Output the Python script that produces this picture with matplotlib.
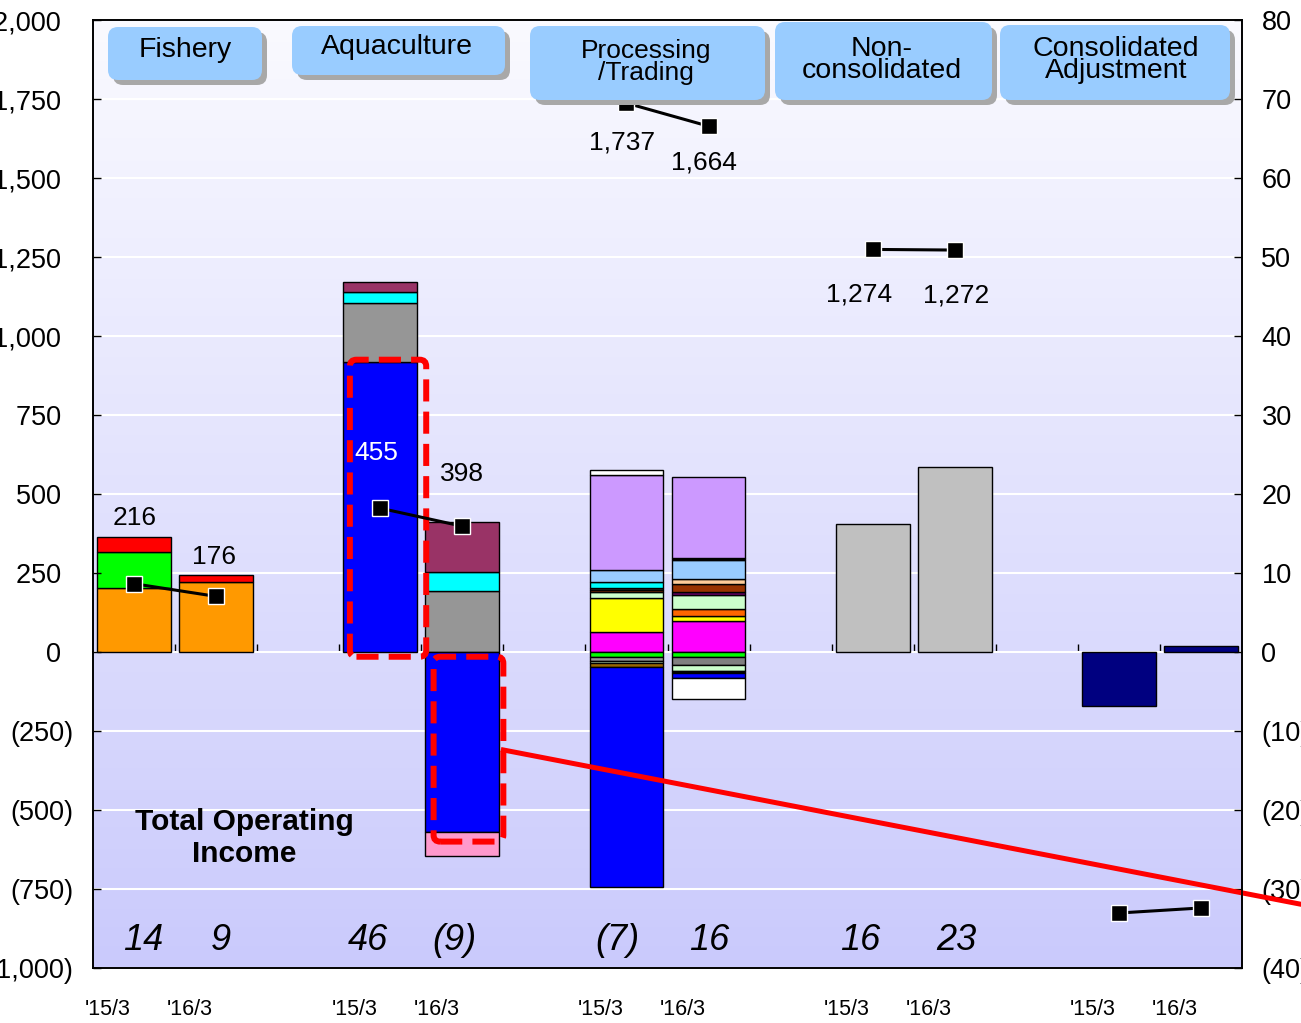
import numpy as np
import matplotlib
matplotlib.use('Agg')
import matplotlib.pyplot as plt
import matplotlib.transforms as mtrans
from matplotlib.patches import FancyBboxPatch
from matplotlib.ticker import MultipleLocator, FuncFormatter

plt.rcParams['font.family'] = ['Liberation Sans', 'DejaVu Sans']

# ---- data ----
segments = ['Fishery', 'Aquaculture', 'Processing\n/Trading', 'Non-\nconsolidated', 'Consolidated\nAdjustment']
years = ["'15/3", "'16/3"]
slots = [0, 1, 3, 4, 6, 7, 9, 10, 12, 13]

# net sales (left axis)
sales = [216, 176, 455, 398, 1737, 1664, 1274, 1272, -826, -810]
sales_text = ['216', '176', '455', '398', '1,737', '1,664', '1,274', '1,272']

# operating income totals (text under bars)
op_income = ['14', '9', '46', '(9)', '(7)', '16', '16', '23']

# operating income breakdown (right axis), stacked from zero outward
fishery_15 = [8.1, 4.5, 1.9]
fishery_16 = [8.9, 0.8]
aqua_15 = [36.7, 7.5, 1.4, 1.2]
aqua_16_pos = [7.7, 2.4, 6.4]
aqua_16_neg = [-22.8, -3.0]
proc_15_pos = [2.5, 4.35, 0.7, 0.3, 0.25, 0.7, 1.6, 12.0, 0.6]
proc_15_neg = [-0.65, -0.5, -0.25, -0.5, -27.9]
proc_16_pos = [3.95, 0.65, 0.9, 1.75, 0.4, 0.95, 0.65, 2.4, 0.3, 10.25]
proc_16_neg = [-0.6, -1.1, -0.7, -0.25, -0.65, -2.6]
noncons = [16.2, 23.4]
adjust = [-6.8, 0.8]

# colours
c_fish_15 = ['#ff9900', '#00ff00', '#ff0000']
c_fish_16 = ['#ff9900', '#ff0000']
c_aqua_15 = ['#0000ff', '#969696', '#00ffff', '#993366']
c_aqua_16_pos = ['#969696', '#00ffff', '#993366']
c_aqua_16_neg = ['#0000ff', '#ff99cc']
c_proc_15_pos = ['#ff00ff', '#ffff00', '#ccffcc', '#993300', '#333333', '#00ffff', '#99ccff', '#cc99ff', '#ffffff']
c_proc_15_neg = ['#00ff00', '#969696', '#ccffcc', '#996600', '#0000ff']
c_proc_16_pos = ['#ff00ff', '#ffff00', '#ff6600', '#ccffcc', '#660066', '#993300', '#ffcc99', '#99ccff', '#000000', '#cc99ff']
c_proc_16_neg = ['#00ff00', '#808080', '#ccffcc', '#000000', '#0000ff', '#ffffff']

W, H = 1301, 1023
fig = plt.figure(figsize=(W / 100, H / 100), dpi=100)
ax = fig.add_axes([93 / W, 55 / H, 1149 / W, 948 / H])
ax2 = ax.twinx()
ax.set_zorder(ax2.get_zorder() + 1)
ax.patch.set_visible(False)

# background gradient
top = np.array([250, 250, 255]) / 255
bot = np.array([202, 202, 252]) / 255
t = np.linspace(0, 1, 256)[:, None]
grad = (top * (1 - t) + bot * t)[:, None, :]
ax2.imshow(grad, extent=[0, 1, 0, 1], transform=ax2.transAxes, aspect='auto', zorder=-2)


def stack(x, vals, cols):
    base = 0
    for v, c in zip(vals, cols):
        ax2.bar(x, v, 0.9, bottom=base, color=c, edgecolor='black', linewidth=1, zorder=2)
        base += v


stack(slots[0], fishery_15, c_fish_15)
stack(slots[1], fishery_16, c_fish_16)
stack(slots[2], aqua_15, c_aqua_15)
stack(slots[3], aqua_16_pos, c_aqua_16_pos)
stack(slots[3], aqua_16_neg, c_aqua_16_neg)
stack(slots[4], proc_15_pos, c_proc_15_pos)
stack(slots[4], proc_15_neg, c_proc_15_neg)
stack(slots[5], proc_16_pos, c_proc_16_pos)
stack(slots[5], proc_16_neg, c_proc_16_neg)
ax2.bar(slots[6:8], noncons, 0.9, color='#c0c0c0', edgecolor='black', linewidth=1, zorder=2)
ax2.bar(slots[8:10], adjust, 0.9, color='#000080', edgecolor='black', linewidth=1, zorder=2)

ax.set_xlim(-0.5, 13.5)
ax.set_ylim(-1000, 2000)
ax2.set_ylim(-40, 80)

# grid
ax2.yaxis.set_major_locator(MultipleLocator(10))
ax.yaxis.set_major_locator(MultipleLocator(250))
ax2.yaxis.grid(True, color='white', linewidth=1.5, zorder=-1)
ax2.set_axisbelow(True)

ax.yaxis.set_major_formatter(FuncFormatter(lambda v, p: f'{v:,.0f}\u2009 ' if v >= 0 else f'({-v:,.0f})'))
ax2.yaxis.set_major_formatter(FuncFormatter(lambda v, p: f'{v:.0f}' if v >= 0 else f'({-v:.0f})'))
ax.tick_params(axis='y', direction='in', length=6, width=1, labelsize=19.5, pad=14)
ax2.tick_params(axis='y', direction='in', length=6, width=1, labelsize=19.5, pad=14)
for a in (ax, ax2):
    for s in a.spines.values():
        s.set_linewidth(1.2)
        s.set_color('black')

# x labels
ax.set_xticks(slots)
ax.set_xticklabels(years * 5, fontsize=15.5)
ax.tick_params(axis='x', length=0, pad=22)
shift = mtrans.ScaledTranslation(-0.26, 0, fig.dpi_scale_trans)
for lab in ax.get_xticklabels():
    lab.set_transform(lab.get_transform() + shift)

# zero line with category ticks
sec = ax2.secondary_xaxis(1 / 3)
sec.set_xticks(np.arange(0.5, 13.0, 1.0))
sec.set_xticklabels([])
sec.tick_params(direction='in', length=6, width=1)
sec.spines['bottom'].set_linewidth(1.2)

# sales markers
for i in range(0, 10, 2):
    ax.plot(slots[i:i + 2], sales[i:i + 2], color='black', lw=2.2, marker='s', ms=11,
            mfc='black', mec='white', mew=1, zorder=4)

offsets = [(1, 66), (-2, 39), (-4, 55), (0, 52), (-4, -39), (-5, -36), (-14, -45), (1, -45)]
for i, txt in enumerate(sales_text):
    dx, dy = offsets[i]
    ax.annotate(txt, (slots[i], sales[i]), xytext=(dx * 0.72, dy * 0.72), textcoords='offset points',
                ha='center', va='center', fontsize=19, color='white' if i == 2 else 'black', zorder=5)

# operating income totals
btrans = mtrans.blended_transform_factory(ax2.transData, ax2.transAxes)
nudge = [9, 5, -12, -8, -9, 1, -12, 2]
for i, txt in enumerate(op_income):
    tr = btrans + mtrans.ScaledTranslation(nudge[i] / 100, 0, fig.dpi_scale_trans)
    ax2.text(slots[i], 0.029, txt, transform=tr, ha='center', va='center',
             fontsize=26, style='italic', zorder=6)

ax2.text(244 / W, 1 - 838 / H, 'Total Operating\nIncome', transform=fig.transFigure, ha='center',
         va='center', fontsize=21.5, fontweight='bold', linespacing=1.2, zorder=6)

# red dashed highlight boxes
asp = 10.38
for (x0, x1, y0, y1) in [(2.63, 3.56, -0.6, 37.0), (3.65, 4.50, -24.0, -0.6)]:
    ax2.add_patch(FancyBboxPatch((x0, y0), x1 - x0, y1 - y0,
                                 boxstyle='round,pad=0,rounding_size=0.08', mutation_aspect=asp,
                                 fill=False, edgecolor='red', linewidth=4.3,
                                 linestyle=(0, (3.7, 1.7)), zorder=5))
ax2.plot([4.5, 14.6], [-12.4, -32.7], color='red', lw=3.6, clip_on=False, zorder=5)

# segment header boxes (pixel layout)
ptrans = mtrans.Affine2D().scale(1 / W, 1 / H) + fig.transFigure
headers = [(108, 27, 262, 80, 185, 50, 20.5),
           (292, 26, 505, 75, 397, 47, 20.5),
           (530, 26, 765, 100, 646, 62, 19),
           (775, 22, 992, 100, 882, 60, 20.5),
           (1000, 25, 1230, 100, 1116, 60, 20.5)]
for name, (x0, y0, x1, y1, tx, ty, fs) in zip(segments, headers):
    fig.patches.append(FancyBboxPatch((x0 + 5, H - y1 - 5), x1 - x0, y1 - y0,
                                      boxstyle='round,pad=0,rounding_size=10', transform=ptrans,
                                      facecolor='#a8a8a8', edgecolor='none', zorder=5))
    fig.patches.append(FancyBboxPatch((x0, H - y1), x1 - x0, y1 - y0,
                                      boxstyle='round,pad=0,rounding_size=10', transform=ptrans,
                                      facecolor='#99ccff', edgecolor='none', zorder=6))
    fig.text(tx / W, 1 - ty / H, name, ha='center', va='center', fontsize=fs,
             linespacing=0.85, zorder=7)

fig.savefig('out.png', dpi=100)
